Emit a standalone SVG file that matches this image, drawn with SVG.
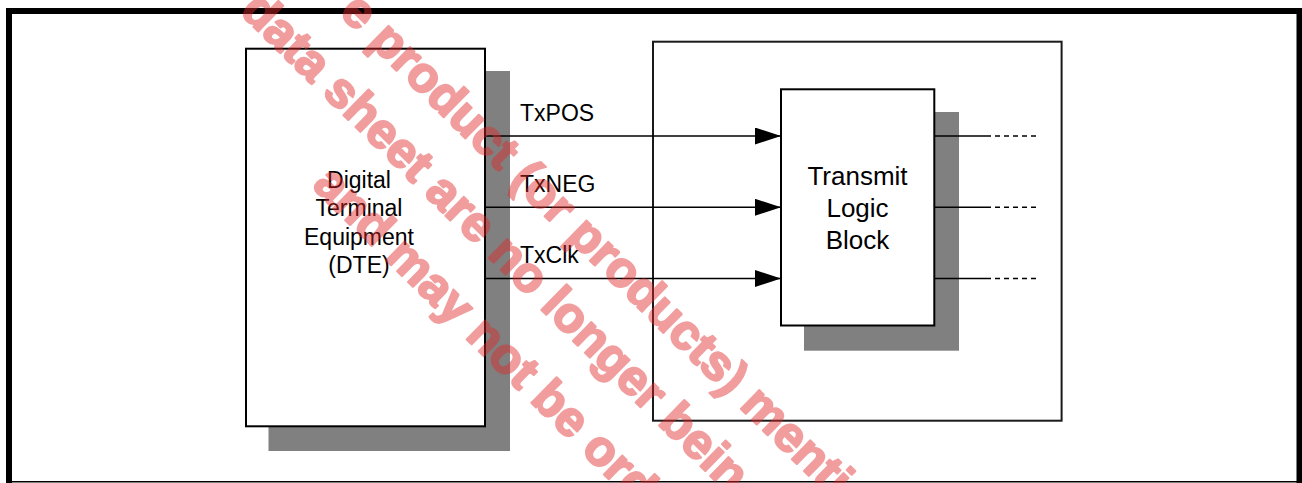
<svg xmlns="http://www.w3.org/2000/svg" width="1302" height="483" viewBox="0 0 1302 483">
  <style>
    .box { fill: #ffffff; stroke: #000000; stroke-width: 2; }
    .shadow { fill: #808080; stroke: none; }
    .lbl { font-family: "Liberation Sans", Arial, sans-serif; font-size: 23px; fill: #000000; }
    .big { font-family: "Liberation Sans", Arial, sans-serif; font-size: 26px; fill: #000000; }
    .wire { stroke: #000000; stroke-width: 1.6; fill: none; }
    .dash { stroke: #000000; stroke-width: 1.6; fill: none; stroke-dasharray: 5 4; }
    .wm { font-family: "Liberation Sans", Arial, sans-serif; font-weight: 700; font-size: 49.5px; fill: #e12828; stroke: #e12828; stroke-width: 2.2; stroke-linejoin: round; }
  </style>
  <defs>
    <marker id="arrow" markerUnits="userSpaceOnUse" markerWidth="26" markerHeight="18" refX="26" refY="8.5" orient="auto">
      <path d="M0,0 L26,8.5 L0,17 Z" fill="#000000"/>
    </marker>
  </defs>
  <rect x="0" y="0" width="1302" height="483" fill="#ffffff"/>
  <g id="frame">
    <path d="M9,483 V11 H1299.5 V483" fill="none" stroke="#000000" stroke-width="6"/>
    <line x1="6" y1="481.8" x2="1302" y2="481.8" stroke="#000000" stroke-width="1.6"/>
  </g>
  <g id="outer-block">
    <rect x="653" y="41.7" width="408.6" height="379" fill="none" stroke="#1a1a1a" stroke-width="2"/>
  </g>
  <g id="dte">
    <rect class="shadow" x="268.5" y="71" width="241.5" height="380"/>
    <rect class="box" x="246" y="48.7" width="239" height="377.6"/>
    <text class="lbl" text-anchor="middle" x="359" y="187.5">Digital</text>
    <text class="lbl" text-anchor="middle" x="359" y="216">Terminal</text>
    <text class="lbl" text-anchor="middle" x="359" y="244.5">Equipment</text>
    <text class="lbl" text-anchor="middle" x="359" y="273">(DTE)</text>
  </g>
  <g id="transmit">
    <rect class="shadow" x="804" y="112" width="155" height="238.7"/>
    <rect class="box" x="781" y="89.3" width="153.3" height="236.2"/>
    <text class="big" text-anchor="middle" x="857.5" y="185">Transmit</text>
    <text class="big" text-anchor="middle" x="857.5" y="216.7">Logic</text>
    <text class="big" text-anchor="middle" x="857.5" y="249">Block</text>
  </g>
  <g id="connectors">
    <line class="wire" x1="485" y1="136" x2="781" y2="136" marker-end="url(#arrow)"/>
    <line class="wire" x1="485" y1="207.3" x2="781" y2="207.3" marker-end="url(#arrow)"/>
    <line class="wire" x1="485" y1="278.5" x2="781" y2="278.5" marker-end="url(#arrow)"/>
    <text class="lbl" x="520" y="120.7">TxPOS</text>
    <text class="lbl" x="520" y="192.3">TxNEG</text>
    <text class="lbl" x="520" y="263">TxClk</text>
    <line class="wire" x1="934" y1="136" x2="986" y2="136"/>
    <line class="wire" x1="934" y1="207.3" x2="986" y2="207.3"/>
    <line class="wire" x1="934" y1="278.5" x2="986" y2="278.5"/>
    <line class="dash" x1="986" y1="136" x2="1036" y2="136"/>
    <line class="dash" x1="986" y1="207.3" x2="1036" y2="207.3"/>
    <line class="dash" x1="986" y1="278.5" x2="1036" y2="278.5"/>
  </g>
  <g id="watermark" opacity="0.45">
    <text class="wm" transform="translate(338.3,13.4) rotate(44.5)">e product (or products) menti</text>
    <text class="wm" transform="translate(238.9,12.6) rotate(44.5)">data sheet are no longer bein</text>
    <text class="wm" transform="translate(311.2,186.6) rotate(44.5)">and may not be ord</text>
  </g>
</svg>
